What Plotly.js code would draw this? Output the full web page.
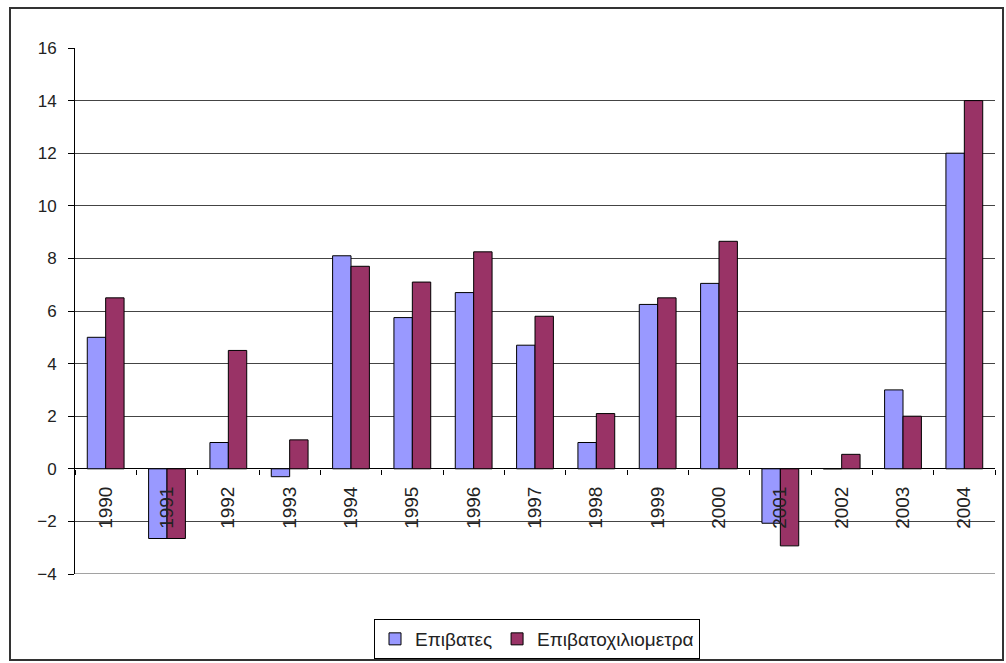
<!DOCTYPE html>
<html>
<head>
<meta charset="utf-8">
<script src="https://cdn.plot.ly/plotly-3.0.1.min.js"></script>
<style>html,body{margin:0;padding:0;background:#fff;}#chart{width:1006px;height:663px;}</style>
</head>
<body>
<div id="chart"></div>
<script>
const years = ['1990','1991','1992','1993','1994','1995','1996','1997','1998','1999','2000','2001','2002','2003','2004'];
const passengers = [5.0, -2.65, 1.0, -0.3, 8.1, 5.75, 6.7, 4.7, 1.0, 6.25, 7.05, -2.07, 0, 3.0, 12.0];
const passengerKm = [6.5, -2.65, 4.5, 1.1, 7.7, 7.1, 8.25, 5.8, 2.1, 6.5, 8.65, -2.93, 0.55, 2.0, 14.0];
const seriesNames = ['Επιβατες', 'Επιβατοχιλιομετρα'];
const yTicks = [-4, -2, 0, 2, 4, 6, 8, 10, 12, 14, 16];

const W = 1006, H = 663;
const L = 75, R = 11, T = 48, B = 89;
const pw = W - L - R, ph = H - T - B;
const px = x => (x - L) / pw;
const py = y => (H - B - y) / ph;

const traces = [
  {type: 'bar', name: seriesNames[0], x: years, y: passengers,
   marker: {color: '#9999FF', line: {color: '#000', width: 1}}},
  {type: 'bar', name: seriesNames[1], x: years, y: passengerKm,
   marker: {color: '#993366', line: {color: '#000', width: 1}}}
];

const layout = {
  width: W, height: H,
  margin: {l: L, r: R, t: T, b: B},
  paper_bgcolor: '#fff', plot_bgcolor: '#fff',
  font: {family: 'Liberation Sans, Arial, sans-serif', color: '#000', size: 13},
  barmode: 'group', bargap: 0.4, bargroupgap: 0,
  showlegend: true,
  legend: {orientation: 'h', xref: 'container', yref: 'container',
           x: 537 / W, xanchor: 'center', y: 1 - 619 / H, yanchor: 'top',
           bordercolor: '#000', borderwidth: 1, font: {size: 19, color: '#222'}, itemwidth: 20,
           traceorder: 'normal'},
  xaxis: {type: 'category', tickangle: -90, anchor: 'free', position: 0.2,
          showline: false, showgrid: false, ticks: 'outside', tickson: 'boundaries',
          ticklen: 5, tickcolor: '#000', tickfont: {size: 19, color: '#222'},
          ticklabelstandoff: 13, fixedrange: true},
  yaxis: {range: [-4, 16], tickvals: yTicks, ticks: 'outside', ticklen: 6, tickcolor: '#000',
          showline: true, linecolor: '#000', linewidth: 1,
          showgrid: true, gridcolor: '#444', gridwidth: 1,
          zeroline: true, zerolinecolor: '#000', zerolinewidth: 1,
          tickfont: {size: 17, color: '#222'}, ticklabelstandoff: 8},
  shapes: [
    {type: 'rect', xref: 'paper', yref: 'paper', x0: px(10), x1: px(1003), y0: py(660), y1: py(8),
     line: {color: '#333', width: 2}, fillcolor: 'rgba(0,0,0,0)', layer: 'below'},
    {type: 'line', xref: 'paper', yref: 'y', x0: 0, x1: 1, y0: -4, y1: -4,
     line: {color: '#444', width: 1}}
  ]
};

Plotly.newPlot('chart', traces, layout, {displayModeBar: false, staticPlot: true});
</script>
</body>
</html>
